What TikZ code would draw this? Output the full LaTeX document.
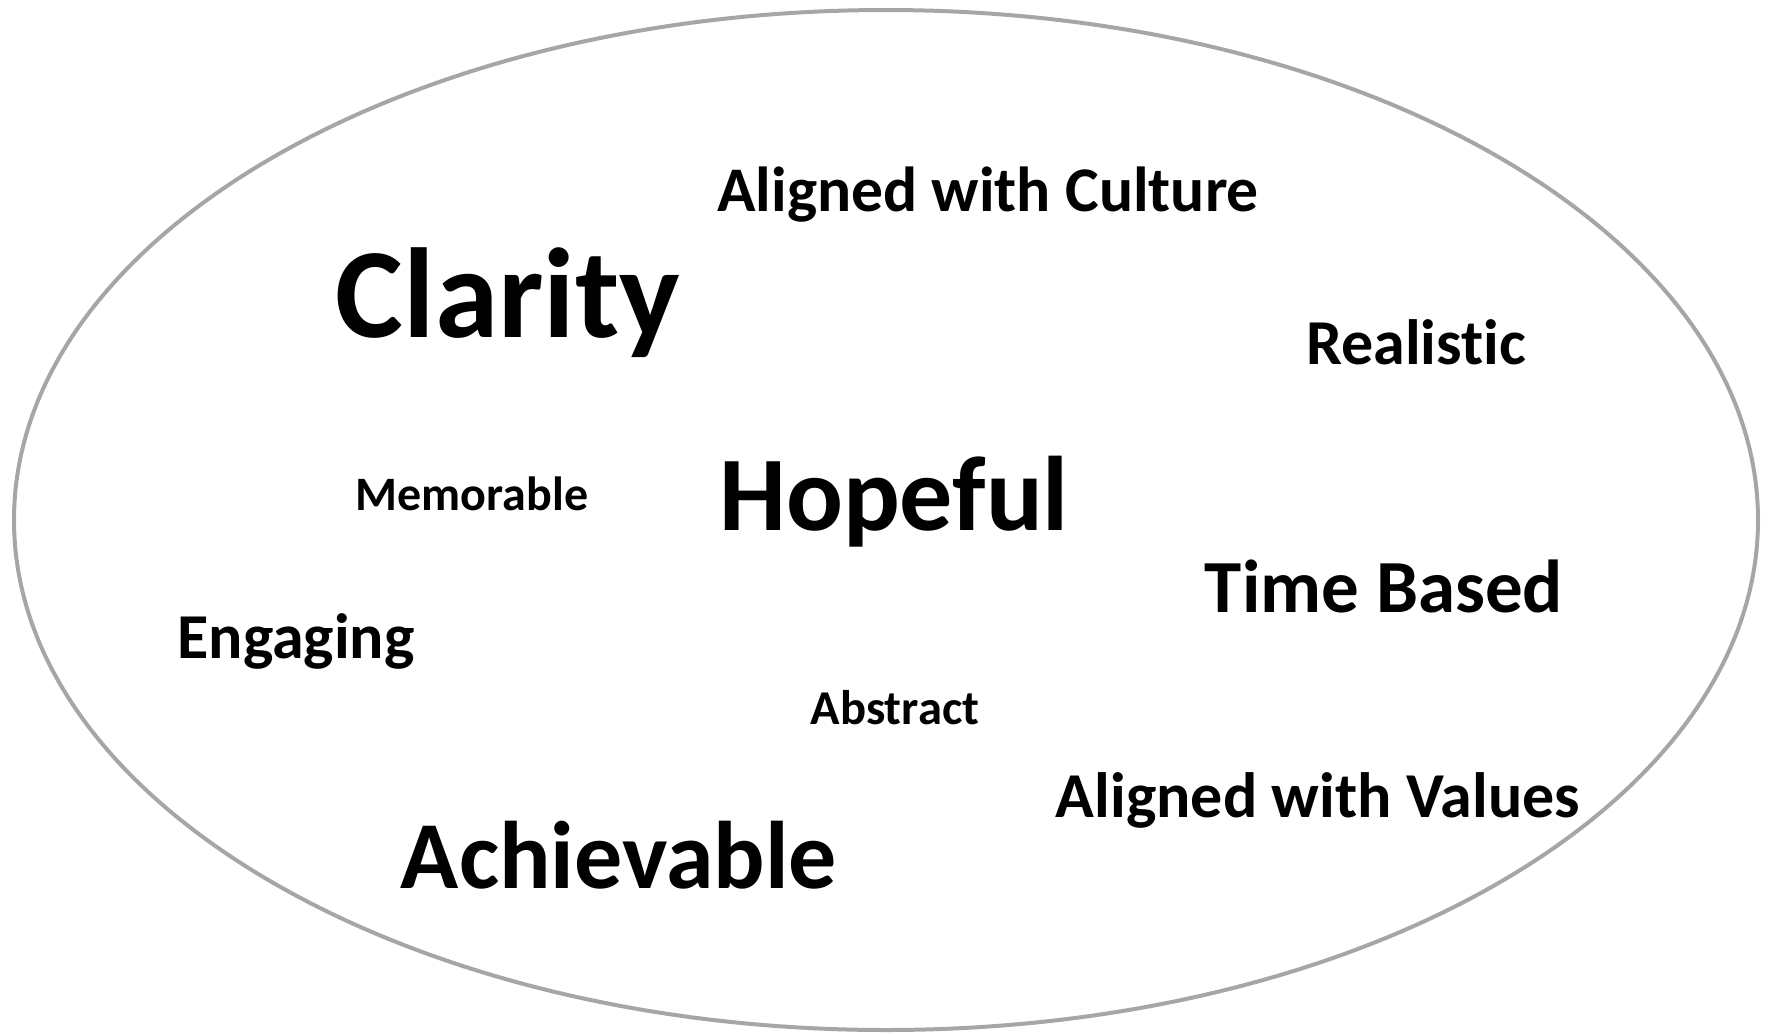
\documentclass[tikz,border=0pt]{standalone}
\usepackage{fontspec}
\setmainfont{Carlito}[Ligatures={NoCommon,NoRare}]
\usepackage{tikz}

\newcommand{\wsize}[1]{\bfseries\fontsize{#1}{#1}\selectfont}

\begin{document}
\begin{tikzpicture}[x=0.5pt,y=-0.5pt,
  word/.style={inner sep=0pt,anchor=base,text=black}]

  \useasboundingbox (0,0) rectangle (1769,1035);
  \draw[black!35,line width=2pt] (886,520) ellipse [x radius=872,y radius=510];

  \node[word,font=\wsize{64}] (clarity) at (508,337) {Clarity};
  \node[word,font=\wsize{31.8}] (culture) at (988,211) {Aligned with Culture};
  \node[word,font=\wsize{32}] (realistic) at (1416,364) {Realistic};
  \node[word,font=\wsize{24}] (memorable) at (472,510) {Memorable};
  \node[word,font=\wsize{53}] (hopeful) at (894,530) {Hopeful};
  \node[word,font=\wsize{37.5}] (timebased) at (1384,612) {Time Based};
  \node[word,font=\wsize{32}] (engaging) at (296,658) {Engaging};
  \node[word,font=\wsize{24.3}] (abstract) at (895,724) {Abstract};
  \node[word,font=\wsize{32}] (values) at (1318,817) {Aligned with Values};
  \node[word,font=\wsize{48}] (achievable) at (619,888) {Achievable};

\end{tikzpicture}
\end{document}
